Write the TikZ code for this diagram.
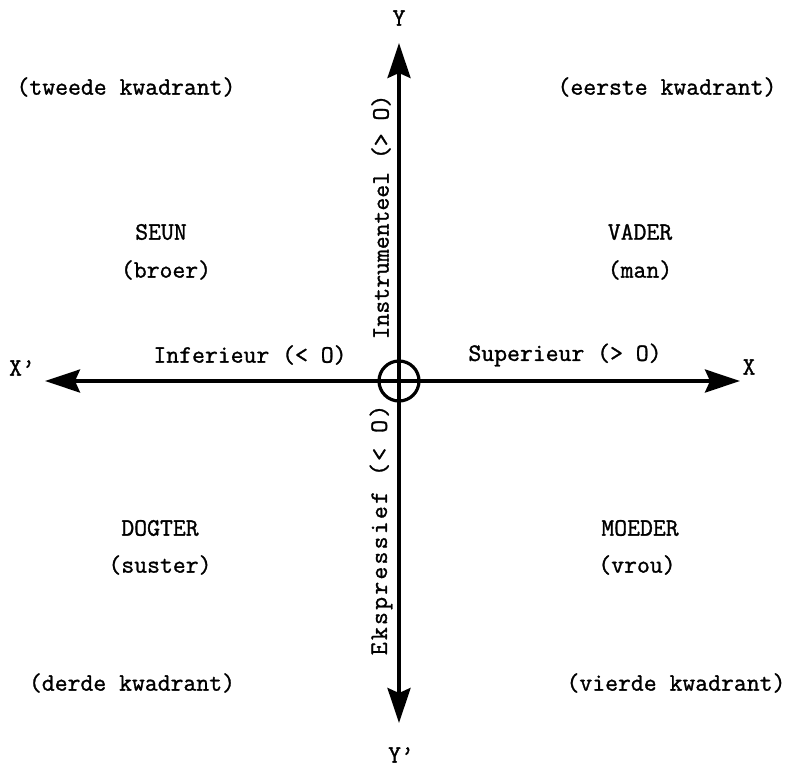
\documentclass[tikz,border=0pt]{standalone}
\usepackage{fontspec}
\newfontfamily\mymono[FakeBold=1.2]{Latin Modern Mono}
\newfontfamily\mymonowide[FakeBold=1.2,LetterSpace=9]{Latin Modern Mono}
\usetikzlibrary{arrows.meta}
\begin{document}
\begin{tikzpicture}[x=1pt,y=-1pt,
  lbl/.style={inner sep=0pt,font=\mymono\fontsize{25}{30}\selectfont},
  wlbl/.style={inner sep=0pt,font=\mymonowide\fontsize{25}{30}\selectfont},
  axis/.style={line width=3.4pt,{Stealth[length=35pt,width=23pt,inset=5pt]}-{Stealth[length=35pt,width=23pt,inset=5pt]}}]
\useasboundingbox (0,0) rectangle (794,768);
\coordinate (O) at (399,381);
\coordinate (xl) at (45,381);
\coordinate (xr) at (740,381);
\coordinate (yt) at (399,43);
\coordinate (yb) at (399,723);
\draw[axis] (xl) -- (xr);
\draw[axis] (yb) -- (yt);
\node[draw,circle,line width=3.2pt,minimum size=40pt,inner sep=0pt] (c) at (O) {};
\node[lbl] (Y) at (399,18) {Y};
\node[lbl] (Yp) at (401,755) {Y’};
\node[lbl] (Xp) at (22,368) {X’};
\node[lbl] (X) at (749,367) {X};
\node[lbl] (q2) at (126,87) {(tweede kwadrant)};
\node[lbl] (q1) at (667,87) {(eerste kwadrant)};
\node[lbl] (q3) at (132,683) {(derde kwadrant)};
\node[lbl] (q4) at (676,683) {(vierde kwadrant)};
\node[lbl] (seun) at (161,232) {SEUN};
\node[lbl] (broer) at (166,270) {(broer)};
\node[lbl] (vader) at (640,232) {VADER};
\node[lbl] (man) at (640,270) {(man)};
\node[lbl] (dogter) at (160,528) {DOGTER};
\node[lbl] (suster) at (160,565) {(suster)};
\node[lbl] (moeder) at (640,528) {MOEDER};
\node[lbl] (vrou) at (637,565) {(vrou)};
\node[lbl] (inf) at (250,355) {Inferieur (< O)};
\node[lbl] (sup) at (565,355) {Superieur (> O)};
\node[lbl,rotate=90] (ins) at (381,217) {Instrumenteel (> O)};
\node[wlbl,rotate=90] (eks) at (381,530) {Ekspressief (< O)};
\end{tikzpicture}
\end{document}
